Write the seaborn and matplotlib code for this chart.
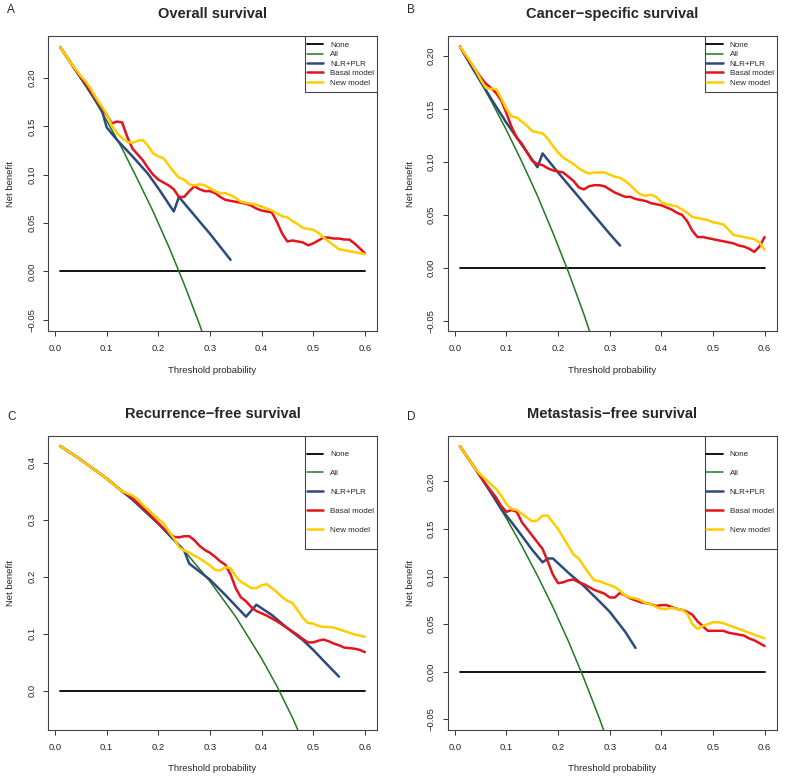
import matplotlib
matplotlib.use('Agg')
import numpy as np
import pandas as pd
import seaborn as sns
import matplotlib.pyplot as plt
from matplotlib.patches import Rectangle

##########################################################################
## data (net benefit vs threshold)
##########################################################################
THR = [round(0.01 * i, 2) for i in range(1, 61)]
NONE_X = [0.01, 0.60]
NONE_Y = [0.0, 0.0]

## A  Overall survival
a_all_x = [0.01, 0.04, 0.07, 0.10, 0.13, 0.16, 0.19, 0.22, 0.25, 0.28, 0.31]
a_all_y = [0.232, 0.208, 0.183, 0.156, 0.127, 0.095, 0.062, 0.026, -0.013, -0.055, -0.101]
a_nlr_x = [0.01, 0.03, 0.05, 0.07, 0.09, 0.10, 0.12, 0.15, 0.18, 0.20, 0.23, 0.24, 0.27, 0.30, 0.34]
a_nlr_y = [0.232, 0.216, 0.200, 0.184, 0.168, 0.149, 0.136, 0.119, 0.101, 0.086, 0.062, 0.077, 0.058, 0.039, 0.012]
a_basal = [0.232, 0.224, 0.216, 0.208, 0.201, 0.194, 0.186, 0.178, 0.170, 0.162,
           0.153, 0.155, 0.154, 0.139, 0.127, 0.121, 0.115, 0.107, 0.100, 0.095,
           0.092, 0.089, 0.085, 0.077, 0.077, 0.083, 0.088, 0.085, 0.083, 0.083,
           0.081, 0.077, 0.074, 0.073, 0.072, 0.071, 0.070, 0.068, 0.065, 0.063,
           0.062, 0.061, 0.051, 0.039, 0.031, 0.032, 0.031, 0.030, 0.027, 0.029,
           0.032, 0.035, 0.035, 0.034, 0.034, 0.033, 0.033, 0.029, 0.024, 0.019]
a_new   = [0.232, 0.224, 0.216, 0.209, 0.202, 0.196, 0.188, 0.179, 0.171, 0.163,
           0.151, 0.143, 0.138, 0.134, 0.133, 0.135, 0.136, 0.130, 0.122, 0.119,
           0.117, 0.110, 0.103, 0.097, 0.095, 0.090, 0.089, 0.090, 0.089, 0.086,
           0.083, 0.081, 0.081, 0.079, 0.076, 0.072, 0.071, 0.070, 0.069, 0.067,
           0.065, 0.063, 0.060, 0.057, 0.056, 0.052, 0.049, 0.045, 0.044, 0.043,
           0.040, 0.035, 0.031, 0.027, 0.023, 0.022, 0.021, 0.020, 0.019, 0.018]

## B  Cancer-specific survival
b_all_x = [0.01, 0.04, 0.07, 0.10, 0.13, 0.16, 0.19, 0.22, 0.25, 0.28]
b_all_y = [0.209, 0.184, 0.158, 0.130, 0.100, 0.068, 0.033, -0.004, -0.044, -0.088]
b_nlr_x = [0.01, 0.03, 0.05, 0.07, 0.10, 0.13, 0.16, 0.17, 0.20, 0.25, 0.30, 0.32]
b_nlr_y = [0.209, 0.192, 0.176, 0.160, 0.137, 0.116, 0.095, 0.108, 0.090, 0.061, 0.032, 0.021]
b_basal = [0.209, 0.201, 0.194, 0.187, 0.180, 0.174, 0.170, 0.165, 0.158, 0.146,
           0.133, 0.123, 0.117, 0.109, 0.101, 0.098, 0.097, 0.094, 0.092, 0.091,
           0.090, 0.086, 0.082, 0.076, 0.074, 0.077, 0.078, 0.078, 0.077, 0.074,
           0.071, 0.069, 0.067, 0.067, 0.065, 0.064, 0.063, 0.061, 0.060, 0.059,
           0.057, 0.055, 0.052, 0.050, 0.044, 0.035, 0.029, 0.029, 0.028, 0.027,
           0.026, 0.025, 0.024, 0.023, 0.021, 0.020, 0.018, 0.015, 0.020, 0.029]
b_new   = [0.209, 0.202, 0.195, 0.187, 0.178, 0.170, 0.169, 0.169, 0.160, 0.150,
           0.143, 0.142, 0.138, 0.134, 0.129, 0.128, 0.127, 0.122, 0.115, 0.109,
           0.104, 0.101, 0.098, 0.094, 0.091, 0.089, 0.090, 0.090, 0.090, 0.088,
           0.086, 0.085, 0.082, 0.078, 0.073, 0.069, 0.068, 0.069, 0.067, 0.062,
           0.060, 0.059, 0.058, 0.055, 0.052, 0.048, 0.047, 0.046, 0.045, 0.043,
           0.042, 0.041, 0.036, 0.031, 0.030, 0.029, 0.028, 0.027, 0.024, 0.017]

## C  Recurrence-free survival
c_all_x = [0.01, 0.05, 0.10, 0.15, 0.20, 0.25, 0.30, 0.35, 0.40, 0.43, 0.46, 0.49]
c_all_y = [0.429, 0.405, 0.372, 0.335, 0.293, 0.246, 0.192, 0.130, 0.057, 0.008, -0.047, -0.109]
c_nlr_x = [0.01, 0.05, 0.10, 0.15, 0.20, 0.25, 0.26, 0.30, 0.33, 0.37, 0.39, 0.42, 0.45, 0.48, 0.50, 0.52, 0.55]
c_nlr_y = [0.429, 0.405, 0.372, 0.335, 0.293, 0.246, 0.223, 0.195, 0.168, 0.130, 0.151, 0.133, 0.110, 0.089, 0.072, 0.053, 0.025]
c_basal = [0.429, 0.423, 0.417, 0.411, 0.405, 0.398, 0.392, 0.385, 0.379, 0.372,
           0.365, 0.357, 0.350, 0.344, 0.338, 0.329, 0.321, 0.312, 0.303, 0.294,
           0.285, 0.277, 0.270, 0.269, 0.271, 0.271, 0.264, 0.254, 0.247, 0.242,
           0.235, 0.227, 0.221, 0.204, 0.180, 0.164, 0.157, 0.147, 0.140, 0.136,
           0.132, 0.127, 0.122, 0.116, 0.110, 0.104, 0.098, 0.091, 0.085, 0.085,
           0.088, 0.090, 0.087, 0.083, 0.080, 0.076, 0.075, 0.074, 0.072, 0.068]
c_new   = [0.429, 0.423, 0.417, 0.411, 0.405, 0.398, 0.392, 0.385, 0.379, 0.372,
           0.365, 0.357, 0.350, 0.346, 0.342, 0.336, 0.326, 0.318, 0.309, 0.301,
           0.294, 0.280, 0.268, 0.252, 0.246, 0.242, 0.237, 0.232, 0.226, 0.220,
           0.212, 0.211, 0.217, 0.215, 0.201, 0.191, 0.186, 0.180, 0.180, 0.185,
           0.187, 0.180, 0.173, 0.164, 0.158, 0.154, 0.141, 0.128, 0.119, 0.118,
           0.114, 0.112, 0.112, 0.111, 0.108, 0.105, 0.102, 0.099, 0.097, 0.095]

## D  Metastasis-free survival
d_all_x = [0.01, 0.04, 0.07, 0.10, 0.13, 0.16, 0.19, 0.22, 0.25, 0.28, 0.31]
d_all_y = [0.237, 0.213, 0.188, 0.161, 0.132, 0.101, 0.068, 0.032, -0.007, -0.049, -0.095]
d_nlr_x = [0.01, 0.04, 0.07, 0.09, 0.12, 0.15, 0.17, 0.18, 0.19, 0.22, 0.25, 0.28, 0.30, 0.33, 0.35]
d_nlr_y = [0.237, 0.213, 0.188, 0.171, 0.150, 0.128, 0.115, 0.119, 0.119, 0.104, 0.090, 0.074, 0.063, 0.042, 0.025]
d_basal = [0.237, 0.229, 0.221, 0.213, 0.205, 0.197, 0.190, 0.183, 0.174, 0.168,
           0.170, 0.168, 0.157, 0.150, 0.143, 0.136, 0.129, 0.116, 0.102, 0.093,
           0.094, 0.096, 0.097, 0.094, 0.092, 0.089, 0.086, 0.084, 0.082, 0.078,
           0.078, 0.083, 0.080, 0.077, 0.075, 0.073, 0.072, 0.071, 0.069, 0.070,
           0.070, 0.068, 0.066, 0.065, 0.063, 0.060, 0.053, 0.048, 0.043, 0.043,
           0.043, 0.043, 0.041, 0.040, 0.039, 0.038, 0.035, 0.033, 0.030, 0.027]
d_new   = [0.237, 0.229, 0.221, 0.213, 0.207, 0.202, 0.197, 0.192, 0.185, 0.176,
           0.171, 0.170, 0.166, 0.162, 0.158, 0.159, 0.164, 0.164, 0.157, 0.150,
           0.141, 0.132, 0.123, 0.119, 0.111, 0.103, 0.096, 0.095, 0.093, 0.091,
           0.089, 0.085, 0.080, 0.078, 0.077, 0.075, 0.072, 0.071, 0.068, 0.066,
           0.066, 0.067, 0.066, 0.065, 0.061, 0.050, 0.045, 0.048, 0.050, 0.052,
           0.052, 0.051, 0.049, 0.047, 0.045, 0.043, 0.041, 0.039, 0.037, 0.035]

TITLES  = ['Overall survival', 'Cancer\u2212specific survival',
           'Recurrence\u2212free survival', 'Metastasis\u2212free survival']
LETTERS = ['A', 'B', 'C', 'D']
LABELS  = ['None', 'All', 'NLR+PLR', 'Basal model', 'New model']
COLORS  = ['black', '#1f7a1f', '#2e4a7d', '#e3141b', '#ffcc00']

################################################
## layout (figure fractions) and axis settings per panel
W, H = 787.0, 783.0
POS   = [[0.061, 0.577, 0.418, 0.377], [0.569, 0.577, 0.418, 0.377],
         [0.061, 0.068, 0.418, 0.3755], [0.569, 0.068, 0.418, 0.3755]]
LETTER_XY = [(7, 10), (407, 10), (7, 417), (407, 417)]   # pixels, from top-left
YLIMS = [(-0.0618, 0.2434), (-0.0600, 0.2190), (-0.0680, 0.4470), (-0.0610, 0.2480)]
YTICKS = [[-0.05, 0.0, 0.05, 0.10, 0.15, 0.20], [-0.05, 0.0, 0.05, 0.10, 0.15, 0.20],
          [0.0, 0.1, 0.2, 0.3, 0.4], [-0.05, 0.0, 0.05, 0.10, 0.15, 0.20]]
YFMT  = ['{:.2f}', '{:.2f}', '{:.1f}', '{:.2f}']
## legend box height as fraction of axes height (R legend y.intersp differs)
LEG_H = [0.19, 0.19, 0.384, 0.384]
LEG_SPACING = [0.22, 0.22, 1.38, 1.38]
LEG_X0 = (305 - 48) / 329.0

panels = [
  (a_all_x, a_all_y, a_nlr_x, a_nlr_y, a_basal, a_new),
  (b_all_x, b_all_y, b_nlr_x, b_nlr_y, b_basal, b_new),
  (c_all_x, c_all_y, c_nlr_x, c_nlr_y, c_basal, c_new),
  (d_all_x, d_all_y, d_nlr_x, d_nlr_y, d_basal, d_new),
]

sns.set_style('white')
plt.rcParams['font.family'] = ['Liberation Sans', 'DejaVu Sans']
plt.rcParams['axes.unicode_minus'] = True

fig = plt.figure(figsize=(W / 100, H / 100), dpi=100)

for i, (all_x, all_y, nlr_x, nlr_y, basal, new) in enumerate(panels):
  ax = fig.add_axes(POS[i])

  series = [(NONE_X, NONE_Y, 1.3), (all_x, all_y, 1.1), (nlr_x, nlr_y, 1.8),
            (THR, basal, 1.8), (THR, new, 1.8)]
  for (xs, ys, lw), lab, col in zip(series, LABELS, COLORS):
    df = pd.DataFrame({'x': xs, 'y': ys})
    sns.lineplot(data=df, x='x', y='y', ax=ax, color=col, lw=lw,
                 label=lab, sort=False, estimator=None)

  ax.set_xlim(-0.0136, 0.6236)
  ax.set_ylim(*YLIMS[i])
  ax.set_xticks([0.0, 0.1, 0.2, 0.3, 0.4, 0.5, 0.6])
  ax.set_xticklabels(['{:.1f}'.format(t) for t in ax.get_xticks()])
  ax.set_yticks(YTICKS[i])
  ax.set_yticklabels([YFMT[i].format(t).replace('-', '\u2212') for t in YTICKS[i]],
                     rotation=90, va='center')
  ax.tick_params(axis='both', direction='out', length=3.3, width=0.7,
                 labelsize=6.8, color='#333333', left=True, bottom=True)
  ax.tick_params(axis='x', pad=6.0)
  ax.tick_params(axis='y', pad=5.2)
  for s in ax.spines.values():
    s.set_color('#444444')
    s.set_linewidth(0.8)

  ax.set_xlabel('Threshold probability', fontsize=6.8)
  ax.set_ylabel('Net benefit', fontsize=6.8)
  ax.xaxis.set_label_coords(0.5, -0.118)
  ax.yaxis.set_label_coords(-0.10, 0.5)

  ax.set_title(TITLES[i], fontsize=10.5, fontweight='bold', pad=13)
  lx, ly = LETTER_XY[i]
  fig.text(lx / W, 1 - ly / H, LETTERS[i], fontsize=8.5, va='center', ha='left')

  ## legend: R style box anchored to the top-right corner
  box = Rectangle((LEG_X0, 1 - LEG_H[i]), 1 - LEG_X0, LEG_H[i], transform=ax.transAxes,
                  facecolor='white', edgecolor='#444444', lw=0.8, zorder=5)
  ax.add_patch(box)
  leg = ax.legend(loc='center left', bbox_to_anchor=(LEG_X0 + 0.005, 1 - LEG_H[i] / 2),
                  borderaxespad=0, borderpad=0, fontsize=5.8, frameon=False,
                  labelspacing=LEG_SPACING[i], handlelength=2.0, handletextpad=0.9)
  leg.set_zorder(6)

plt.savefig('out.png', dpi=100)
